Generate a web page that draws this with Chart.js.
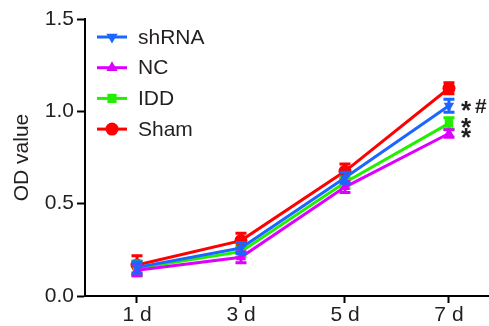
<!DOCTYPE html>
<html><head><meta charset="utf-8">
<script src="https://cdn.jsdelivr.net/npm/chart.js@4"></script>
<style>html,body{margin:0;padding:0;background:#fff;overflow:hidden}#wrap{width:489px;height:326px;position:relative}</style>
</head><body><div id="wrap"><canvas id="c"></canvas></div>
<script>
const categories = ["1 d", "3 d", "5 d", "7 d"];
const days = [1, 3, 5, 7];
const seriesNames = ["shRNA", "NC", "IDD", "Sham"];
const shRNA = [0.155, 0.26, 0.64, 1.03];
const NC = [0.14, 0.21, 0.59, 0.88];
const IDD = [0.15, 0.24, 0.615, 0.935];
const Sham = [0.168, 0.30, 0.675, 1.125];
const shRNAErr = [0.03, 0.03, 0.03, 0.035];
const NCErr = [0.03, 0.03, 0.03, 0.02];
const IDDErr = [0.04, 0.03, 0.03, 0.03];
const ShamErr = [0.05, 0.04, 0.04, 0.03];
const marks7d = ["*#", "*", "*", ""];
const yTicks = [0, 0.5, 1.0, 1.5];

const colors = ["#1a66ff", "#dd00ff", "#22ee00", "#ff0000"];
const shapes = ["triangle", "triangle", "rect", "circle"];
const rotations = [180, 0, 0, 0];
const values = [shRNA, NC, IDD, Sham];
const errs = [shRNAErr, NCErr, IDDErr, ShamErr];
const FONT = "'Liberation Sans', Arial, sans-serif";
const TXT = "#231f20";

const datasets = seriesNames.map((n, i) => ({
  label: n,
  data: days.map((d, j) => ({x: d, y: values[i][j]})),
  borderColor: colors[i], backgroundColor: colors[i],
  borderWidth: 3, pointStyle: shapes[i], pointRotation: rotations[i],
  pointRadius: i === 3 ? 6.5 : 6, pointBorderWidth: 0, tension: 0,
  errs: errs[i]
}));

const errPlugin = {
  id: 'err',
  beforeDatasetDraw(chart, args) {
    const ctx = chart.ctx, ds = chart.data.datasets[args.index];
    const xs = chart.scales.x, ys = chart.scales.y;
    ctx.save(); ctx.strokeStyle = ds.borderColor; ctx.lineWidth = 3;
    ds.data.forEach((p, j) => {
      const x = xs.getPixelForValue(p.x);
      const y1 = ys.getPixelForValue(p.y + ds.errs[j]);
      const y2 = ys.getPixelForValue(p.y - ds.errs[j]);
      ctx.beginPath();
      ctx.moveTo(x, y1); ctx.lineTo(x, y2);
      ctx.moveTo(x - 5.5, y1); ctx.lineTo(x + 5.5, y1);
      ctx.moveTo(x - 5.5, y2); ctx.lineTo(x + 5.5, y2);
      ctx.stroke();
    });
    ctx.restore();
  },
  afterDraw(chart) {
    const ctx = chart.ctx, xs = chart.scales.x, ys = chart.scales.y;
    ctx.save();
    ctx.fillStyle = TXT; ctx.textAlign = "left"; ctx.textBaseline = "alphabetic";
    const x0 = xs.getPixelForValue(days[3]) + 12;
    marks7d.forEach((m, i) => {
      const cy = ys.getPixelForValue(values[i][3]) - 1;
      let x = x0;
      for (const ch of m) {
        if (ch === "*") {
          ctx.font = "bold 26px " + FONT;
          ctx.fillText(ch, x, cy + 14);
          x += 14;
        } else {
          ctx.font = "bold 21px " + FONT;
          ctx.fillText(ch, x, cy + 8);
          x += 13;
        }
      }
    });
    ctx.font = "21px " + FONT; ctx.textBaseline = "middle";
    seriesNames.forEach((n, i) => {
      const y = 37 + i * 30.7;
      ctx.strokeStyle = colors[i]; ctx.lineWidth = 3;
      ctx.beginPath(); ctx.moveTo(97, y); ctx.lineTo(127, y); ctx.stroke();
      ctx.fillStyle = colors[i];
      Chart.helpers.drawPoint(ctx, {pointStyle: shapes[i], rotation: rotations[i], radius: 6.5, borderWidth: 0}, 112, y);
      ctx.fillStyle = TXT;
      ctx.fillText(n, 138, y + 1);
    });
    ctx.restore();
  }
};

new Chart(document.getElementById('c'), {
  type: 'line',
  data: { datasets },
  plugins: [errPlugin],
  options: {
    responsive: true, maintainAspectRatio: false, animation: false,
    layout: { autoPadding: false, padding: { top: 19, right: 0, left: 0, bottom: 0 } },
    plugins: { legend: { display: false }, tooltip: { enabled: false } },
    scales: {
      x: {
        type: 'linear', min: 0, max: 7.77,
        afterBuildTicks: s => { s.ticks = days.map(v => ({ value: v })); },
        afterFit: s => { s.height = 30; },
        ticks: { callback: v => categories[days.indexOf(v)], color: TXT, font: { family: FONT, size: 21 }, padding: 0, maxRotation: 0, autoSkip: false },
        grid: { display: true, drawOnChartArea: false, drawTicks: true, tickLength: 7, tickWidth: 2, color: "#000" },
        border: { display: true, width: 2, color: "#000" }
      },
      y: {
        min: 0, max: 1.5,
        afterBuildTicks: s => { s.ticks = yTicks.map(v => ({ value: v })); },
        afterFit: s => { s.width = 85; },
        ticks: { callback: v => v.toFixed(1), color: TXT, font: { family: FONT, size: 21 }, padding: 3 },
        grid: { display: true, drawOnChartArea: false, drawTicks: true, tickLength: 8, tickWidth: 2, color: "#000" },
        border: { display: true, width: 2, color: "#000" },
        title: { display: true, text: "OD value", color: TXT, font: { family: FONT, size: 21 }, padding: { top: 10, bottom: 0 } }
      }
    }
  }
});
</script></body></html>
